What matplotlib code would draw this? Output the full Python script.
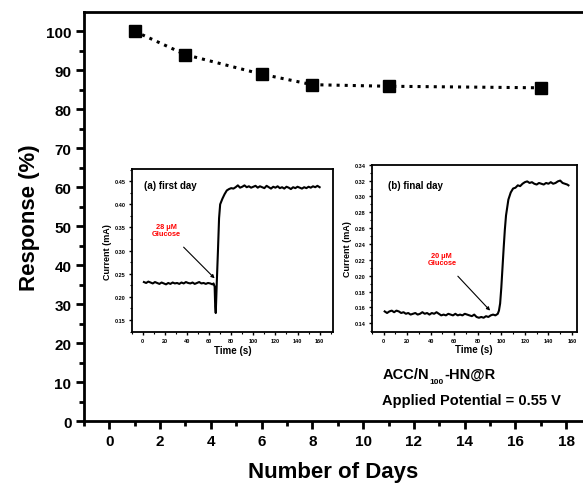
import numpy as np
import matplotlib.pyplot as plt

plt.rcParams['font.family'] = ['Liberation Sans', 'DejaVu Sans']
plt.rcParams['font.weight'] = 'bold'

# main stability data
days = [1, 3, 6, 8, 11, 17]
response = [100, 94, 89, 86.3, 85.9, 85.5]

# inset (a) first day amperometric trace
t_a = [1, 3, 5, 7, 9, 11, 13, 15, 17, 19, 21, 23, 25, 27, 29, 31, 33, 35, 37, 39,
       41, 43, 45, 47, 49, 51, 53, 55, 57, 59, 61, 63, 64, 65, 65.5, 66, 66.5, 67,
       68, 69, 70, 72, 74, 76, 78, 80, 82, 84, 86, 88, 90, 92, 94, 96, 98, 100,
       102, 104, 106, 108, 110, 112, 114, 116, 118, 120, 122, 124, 126, 128, 130,
       132, 134, 136, 138, 140, 142, 144, 146, 148, 150, 152, 154, 156, 158, 160]
i_a = [0.232, 0.230, 0.233, 0.231, 0.229, 0.232, 0.230, 0.228, 0.231, 0.229,
       0.227, 0.230, 0.228, 0.231, 0.229, 0.230, 0.228, 0.231, 0.229, 0.232,
       0.230, 0.229, 0.231, 0.228, 0.230, 0.232, 0.229, 0.230, 0.228, 0.230,
       0.229, 0.227, 0.229, 0.222, 0.180, 0.165, 0.200, 0.235, 0.300, 0.370,
       0.400, 0.412, 0.422, 0.430, 0.433, 0.435, 0.434, 0.437, 0.441, 0.436,
       0.438, 0.441, 0.437, 0.439, 0.436, 0.438, 0.440, 0.436, 0.439, 0.437,
       0.435, 0.440, 0.437, 0.434, 0.438, 0.436, 0.439, 0.435, 0.437, 0.434,
       0.438, 0.436, 0.433, 0.437, 0.435, 0.438, 0.436, 0.434, 0.437, 0.435,
       0.438, 0.436, 0.439, 0.437, 0.440, 0.437]

# inset (b) final day amperometric trace
t_b = [1, 3, 5, 7, 9, 11, 13, 15, 17, 19, 21, 23, 25, 27, 29, 31, 33, 35, 37, 39,
       41, 43, 45, 47, 49, 51, 53, 55, 57, 59, 61, 63, 65, 67, 69, 71, 73, 75, 77,
       79, 81, 83, 85, 87, 89, 91, 93, 95, 97, 98, 99, 100, 101, 102, 103, 104,
       106, 108, 110, 112, 114, 116, 118, 120, 122, 124, 126, 128, 130, 132, 134,
       136, 138, 140, 142, 144, 146, 148, 150, 152, 154, 156, 157]
i_b = [0.155, 0.153, 0.155, 0.156, 0.154, 0.156, 0.155, 0.153, 0.154, 0.152,
       0.153, 0.151, 0.152, 0.153, 0.151, 0.152, 0.154, 0.152, 0.153, 0.151,
       0.153, 0.152, 0.154, 0.152, 0.150, 0.151, 0.150, 0.152, 0.151, 0.150,
       0.152, 0.150, 0.151, 0.150, 0.152, 0.151, 0.150, 0.149, 0.151, 0.148,
       0.147, 0.148, 0.147, 0.149, 0.148, 0.150, 0.151, 0.150, 0.152, 0.156,
       0.165, 0.185, 0.210, 0.235, 0.258, 0.276, 0.296, 0.305, 0.310, 0.311,
       0.314, 0.313, 0.316, 0.318, 0.319, 0.317, 0.318, 0.316, 0.315, 0.317,
       0.316, 0.315, 0.317, 0.316, 0.318, 0.316, 0.317, 0.319, 0.320, 0.317,
       0.316, 0.315, 0.314]

fig = plt.figure(figsize=(5.83, 4.89), dpi=100)
ax = fig.add_axes([0.144, 0.137, 0.856, 0.836])
ax.plot(days, response, ls=':', lw=2.2, color='black', marker='s', ms=8.5)
ax.set_xlim(-1, 18.66)
ax.set_ylim(0, 104.9)
ax.set_xticks(range(0, 19, 2))
ax.set_xticks(range(-1, 19), minor=True)
ax.set_yticks(range(0, 101, 10))
ax.set_yticks(range(0, 105, 5), minor=True)
ax.spines['right'].set_visible(False)
for s in ['left', 'bottom', 'top']:
    ax.spines[s].set_linewidth(2)
ax.tick_params(which='major', direction='out', length=6, width=2, labelsize=11, pad=3)
ax.tick_params(which='minor', direction='out', length=3.5, width=2)
for lab in ax.get_xticklabels() + ax.get_yticklabels():
    lab.set_fontweight('bold')
ax.set_xlabel('Number of Days', fontsize=16, fontweight='bold', labelpad=10)
ax.set_ylabel('Response (%)', fontsize=16, fontweight='bold', labelpad=4)

# sample label with a small subscript, chained so the pieces never overlap
t1 = ax.text(0.598, 0.105, 'ACC/N', transform=ax.transAxes,
             fontsize=10.5, fontweight='bold')
t2 = ax.annotate('100', xy=(1, 0), xycoords=t1, xytext=(0.3, -2.5),
                 textcoords='offset points', fontsize=6, fontweight='bold',
                 va='bottom', ha='left')
ax.annotate('-HN@R', xy=(1, 0), xycoords=t2, xytext=(0.3, 2.5),
            textcoords='offset points', fontsize=10.5, fontweight='bold',
            va='bottom', ha='left')
ax.text(0.598, 0.042, 'Applied Potential = 0.55 V', transform=ax.transAxes,
        fontsize=10.5, fontweight='bold')


def style_inset(a):
    for s in a.spines.values():
        s.set_linewidth(1.3)
    a.tick_params(which='major', direction='out', length=2.5, width=1, labelsize=4, pad=2)
    a.tick_params(which='minor', direction='out', length=1.5, width=0.8)
    for lab in a.get_xticklabels() + a.get_yticklabels():
        lab.set_fontweight('bold')
    a.set_xlabel('Time (s)', fontsize=7, fontweight='bold', labelpad=1)
    a.set_ylabel('Current (mA)', fontsize=6.5, fontweight='bold', labelpad=2)


ins_a = fig.add_axes([0.226, 0.319, 0.345, 0.333])
ins_a.plot(t_a, i_a, color='black', lw=1.5)
ins_a.set_xlim(-10, 172)
ins_a.set_ylim(0.124, 0.476)
ins_a.set_xticks(range(0, 161, 20))
ins_a.set_xticks(range(-10, 171, 10), minor=True)
ins_a.set_yticks([0.15, 0.20, 0.25, 0.30, 0.35, 0.40, 0.45])
ins_a.set_yticks(np.arange(0.125, 0.476, 0.025), minor=True)
style_inset(ins_a)
ins_a.text(0.06, 0.9, '(a) first day', transform=ins_a.transAxes, fontsize=7,
           fontweight='bold', va='center')
ins_a.annotate('28 μM\nGlucose', xy=(65, 0.240), xytext=(21.7, 0.344),
               fontsize=5.3, fontweight='bold', color='red', ha='center', va='center',
               linespacing=1.1,
               arrowprops=dict(arrowstyle='-|>', color='black', lw=0.8,
                               mutation_scale=5, shrinkA=7, shrinkB=0))

ins_b = fig.add_axes([0.6376, 0.3196, 0.3516, 0.3415])
ins_b.plot(t_b, i_b, color='black', lw=1.5)
ins_b.set_xlim(-10, 164)
ins_b.set_ylim(0.1294, 0.34)
ins_b.set_xticks(range(0, 161, 20))
ins_b.set_xticks(range(-10, 161, 10), minor=True)
ins_b.set_yticks(np.round(np.arange(0.14, 0.341, 0.02), 2))
ins_b.set_yticks(np.arange(0.13, 0.341, 0.01), minor=True)
style_inset(ins_b)
ins_b.text(0.08, 0.88, '(b) final day', transform=ins_b.transAxes, fontsize=7,
           fontweight='bold', va='center')
ins_b.annotate('20 μM\nGlucose', xy=(90.5, 0.156), xytext=(49.5, 0.221),
               fontsize=5.3, fontweight='bold', color='red', ha='center', va='center',
               linespacing=1.1,
               arrowprops=dict(arrowstyle='-|>', color='black', lw=0.8,
                               mutation_scale=5, shrinkA=7, shrinkB=0))

fig.savefig('out.png', dpi=100)
